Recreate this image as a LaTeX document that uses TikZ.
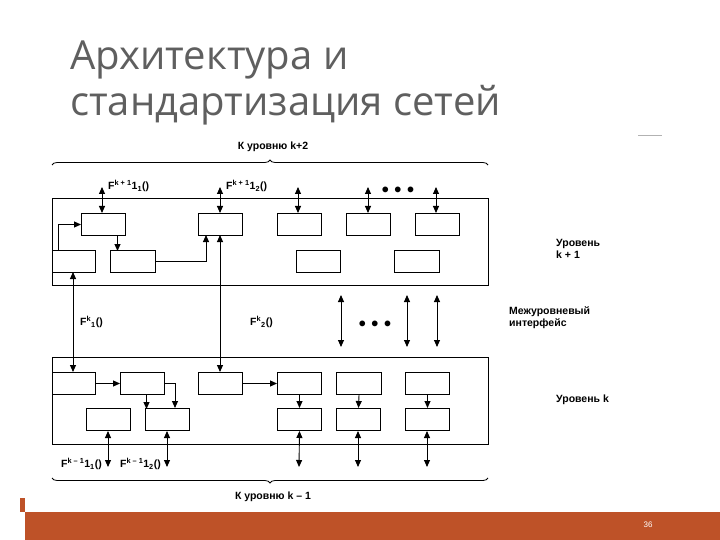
\documentclass[tikz,border=0pt]{standalone}
\usepackage{fontspec}
\setmainfont{Liberation Sans}
\newfontfamily\titlefont{Open Sans}
\usetikzlibrary{decorations.pathreplacing,arrows.meta}
\begin{document}
\begin{tikzpicture}[x=1pt,y=-1pt,
  bx/.style={draw,line width=1pt,minimum width=44pt,minimum height=22pt,inner sep=0pt,anchor=north west},
  frame/.style={draw,line width=1.2pt},
  ar/.style={-{Triangle[length=7pt,width=6pt]},line width=0.9pt},
  dar/.style={{Triangle[length=7pt,width=6pt]}-{Triangle[length=7pt,width=6pt]},line width=0.9pt},
  lbl/.style={font=\fontsize{10.5}{12}\selectfont\bfseries,inner sep=1pt},
  dots/.style={font=\fontsize{20}{20}\selectfont\bfseries}]
\useasboundingbox (0,0) rectangle (720,540);
\fill[fill=white] (0,0) rectangle (720,540);
\fill[fill={rgb,255:red,190;green,82;blue,40}] (25,512) rectangle (720,540);
\fill[fill={rgb,255:red,190;green,82;blue,40}] (20,498) rectangle (25,512);
\node[text=white,font=\fontsize{8}{9}\selectfont] (pg) at (648,525) {36};
\draw[gray!60,line width=0.8pt] (638,135) -- (662,135);
\node[anchor=north west,align=left,text={rgb,255:red,95;green,95;blue,95},font=\titlefont\fontsize{40}{46}\selectfont,inner sep=0pt] (title) at (70,41) {Архитектура и\\стандартизация сетей};
% frames
\node[frame,minimum width=436pt,minimum height=87pt,inner sep=0pt,anchor=north west] (up) at (52,198) {};
\node[frame,minimum width=436pt,minimum height=87pt,inner sep=0pt,anchor=north west] (lo) at (52,357) {};
% upper boxes
\node[bx] (u1) at (81,213) {}; \node[bx] (u2) at (198,213) {}; \node[bx] (u3) at (277,213) {};
\node[bx] (u4) at (346,213) {}; \node[bx] (u5) at (415,213) {};
\node[bx,minimum width=43pt] (ua) at (52,250) {}; \node[bx,minimum width=45pt] (ub) at (110,250) {};
\node[bx] (uc) at (296,250) {}; \node[bx,minimum width=45pt] (ud) at (394,250) {};
% lower boxes
\node[bx,minimum width=43pt] (l1) at (52,372) {}; \node[bx] (l2) at (120,372) {}; \node[bx] (l3) at (198,372) {};
\node[bx] (l4) at (277,372) {}; \node[bx,minimum width=45pt] (l5) at (336,372) {}; \node[bx] (l6) at (405,372) {};
\node[bx] (m1) at (86,408) {}; \node[bx] (m2) at (145,408) {}; \node[bx] (m3) at (277,408) {};
\node[bx] (m4) at (336,408) {}; \node[bx] (m5) at (405,408) {};
% coordinates for free ends
\coordinate (t1) at (102,187); \coordinate (t2) at (220,187); \coordinate (t3) at (298,187);
\coordinate (t4) at (368,187); \coordinate (t5) at (436,187);
\foreach \i in {1,...,5}{\draw[dar] (t\i) -- (t\i |- u\i.north);}
\node[lbl,anchor=west] (f11) at (107,186) {F\textsuperscript{k + 1}1\textsubscript{1}()};
\node[lbl,anchor=west] (f12) at (225,186) {F\textsuperscript{k + 1}1\textsubscript{2}()};
\node[dots] (d1) at (398,192) {• • •};
% upper internal
\draw[ar] (ua.north west) ++(6,0) |- (u1.west);
\draw[ar] (u1.south) ++(14,0) -- ++(0,15);
\draw[ar] (ub.east) -| (206,235);
% interlevel
\draw[dar] (73,272) -- (73,372);
\draw[dar] (220,235) -- (220,372);
\node[lbl,anchor=west] (fk1) at (79,322) {F\textsuperscript{k}\textsubscript{1}()};
\node[lbl,anchor=west] (fk2) at (249,322) {F\textsuperscript{k}\textsubscript{2}()};
\coordinate (i1) at (341,295); \coordinate (i2) at (407,295); \coordinate (i3) at (437,295);
\foreach \i in {1,2,3}{\draw[dar] (i\i) -- ++(0,52);}
\node[dots] (d2) at (375,326) {• • •};
\node[lbl,anchor=west,align=left] (mi) at (508,318) {Межуровневый\\интерфейс};
\node[lbl,anchor=west,align=left] (lk1) at (555,249) {Уровень\\k + 1};
\node[lbl,anchor=west] (lk) at (555,400) {Уровень k};
% lower internal
\draw[ar] (l1.east) -- (l2.west);
\draw[ar] (l2.south) ++(4,0) -- ++(0,14);
\draw[ar] (l2.east) -| (m2.north -| 175,0);
\draw[ar] (l3.east) -- (l4.west);
\draw[ar] (l4.south) -- (m3.north);
\draw[ar] (l5.south) -- (m4.north);
\draw[ar] (l6.south) -- (m5.north);
\coordinate (b1) at (108,467); \coordinate (b2) at (167,467); \coordinate (b3) at (299,467);
\coordinate (b4) at (358,467); \coordinate (b5) at (427,467);
\draw[dar] (b1) -- (b1 |- m1.south); \draw[dar] (b2) -- (b2 |- m2.south);
\draw[dar] (b3) -- (m3.south); \draw[dar] (b4) -- (b4 |- m4.south); \draw[dar] (b5) -- (b5 |- m5.south);
\node[lbl,anchor=east] (fm1) at (103,464) {F\textsuperscript{k – 1}1\textsubscript{1}()};
\node[lbl,anchor=east] (fm2) at (162,464) {F\textsuperscript{k – 1}1\textsubscript{2}()};
% braces
\draw[decorate,decoration={brace,amplitude=5pt},line width=0.8pt] (52,165) -- (488,165);
\node[lbl] (k2) at (273,147) {К уровню k+2};
\draw[decorate,decoration={brace,amplitude=5pt,mirror},line width=0.8pt] (52,478) -- (488,478);
\node[lbl] (k1) at (273,497) {К уровню k – 1};
\end{tikzpicture}
\end{document}
